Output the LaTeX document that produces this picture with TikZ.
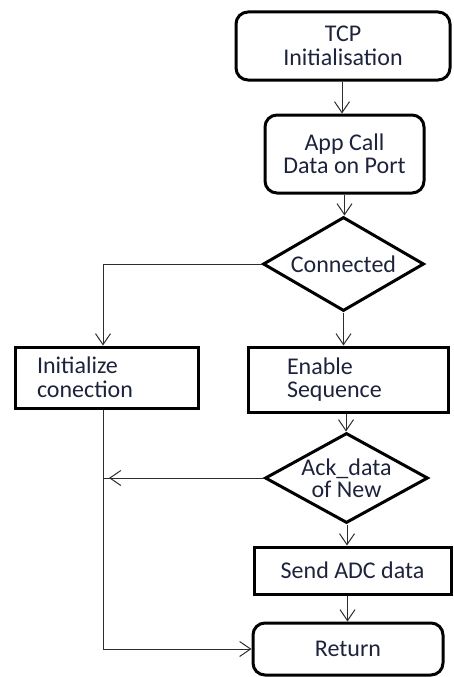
\documentclass[tikz,border=0pt]{standalone}
\usepackage{fontspec}
\setmainfont{Carlito}
\usetikzlibrary{shapes.geometric,arrows.meta}
\definecolor{txt}{RGB}{30,35,60}
\definecolor{ln}{RGB}{45,45,45}
\begin{document}
\begin{tikzpicture}[x=1pt,y=-1pt,
  every node/.style={font=\fontsize{24}{23.5}\selectfont, text=txt},
  box/.style={draw=black, line width=3pt, rectangle, inner sep=0pt},
  term/.style={box, rounded corners=12pt},
  dec/.style={draw=black, line width=3pt, diamond, aspect=1.7, inner sep=0pt},
  conn/.style={draw=ln, line width=1pt, -{Straight Barb[length=11pt,width=15pt]}},
  plain/.style={draw=ln, line width=1pt}]
\useasboundingbox (0,0) rectangle (453,677);

\node[term, minimum width=214pt, minimum height=68pt, align=center] (tcp) at (343,46) {TCP\\Initialisation};
\node[term, minimum width=159pt, minimum height=78pt, align=center] (app) at (344.5,154) {App Call\\Data on Port};
\node[dec, minimum width=161pt, minimum height=94pt] (con) at (343.5,264) {Connected};
\node[box, minimum height=61pt, text width=139pt, inner xsep=22pt, align=left] (init) at (106.5,377.5) {Initialize\\conection};
\node[box, minimum height=65pt, text width=122pt, inner xsep=39pt, align=left] (en) at (348,379.5) {Enable\\Sequence};
\node[dec, minimum width=163pt, minimum height=90pt,
  label={[align=center, font=\fontsize{24}{22}\selectfont, text=txt]center:Ack\_data\\of New}] (ack) at (346.5,478) {};
\node[box, minimum width=197pt, minimum height=47pt] (send) at (352.5,570.5) {Send ADC data};
\node[term, minimum width=190pt, minimum height=52pt] (ret) at (348,649) {Return};

\coordinate (lx) at ([xshift=-3.5pt]init.south);

\draw[conn] ([xshift=-1pt]tcp.south) -- ([xshift=-1pt]tcp.south |- app.north);
\draw[conn] (app.south) -- (app.south |- con.north);
\draw[conn] (con.west) -| ([xshift=-3.5pt]init.north);
\draw[conn] (con.south) -- (con.south |- en.north);
\draw[conn] ([xshift=-2pt]en.south) -- ([xshift=-2pt]en.south |- ack.north);
\draw[plain] (ack.west) -- (ack.west -| lx);
\draw[conn] (ack.west) -- ([xshift=6pt]ack.west -| lx);
\draw[conn] (lx) |- (ret.west);
\draw[conn] ([xshift=-5pt]send.south) -- ([xshift=-5pt]send.south |- ret.north);
\draw[conn] ([xshift=0.5pt]ack.south) -- ([xshift=0.5pt]ack.south |- send.north);
\end{tikzpicture}
\end{document}
